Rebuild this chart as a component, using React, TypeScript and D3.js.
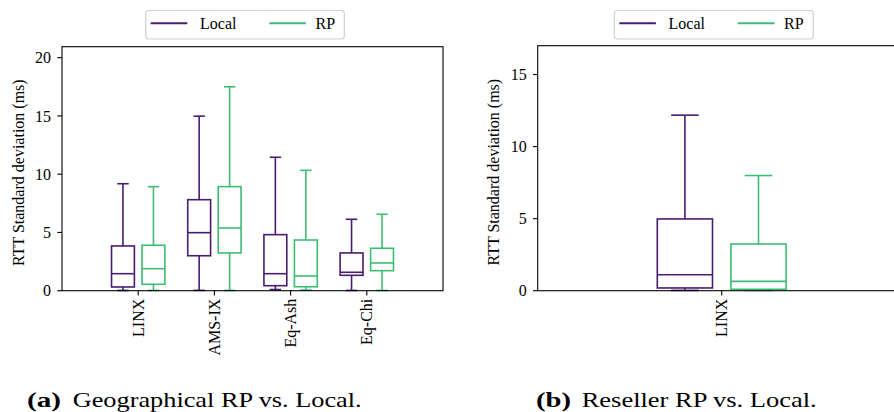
import React from "react";
import * as d3 from "d3";

const categoriesA = ["LINX", "AMS-IX", "Eq-Ash", "Eq-Chi"];
// [whisker low, Q1, median, Q3, whisker high]
const localA = [
  [0.02, 0.32, 1.46, 3.84, 9.18],
  [0.03, 3.0, 4.98, 7.81, 14.98],
  [0.1, 0.43, 1.46, 4.81, 11.45],
  [0.02, 1.32, 1.58, 3.24, 6.13],
];
const rpA = [
  [0.02, 0.55, 1.89, 3.9, 8.93],
  [0.02, 3.24, 5.38, 8.93, 17.5],
  [0.05, 0.34, 1.26, 4.35, 10.33],
  [0.02, 1.72, 2.38, 3.64, 6.56],
];
const categoriesB = ["LINX"];
const localB = [[0.02, 0.19, 1.11, 4.98, 12.18]];
const rpB = [[0.02, 0.1, 0.65, 3.24, 7.99]];

const ticksA = [0, 5, 10, 15, 20];
const ticksB = [0, 5, 10, 15];
const seriesNames = ["Local", "RP"];
const yLabel = "RTT Standard deviation (ms)";

const C_LOCAL = "#481d6f";
const C_RP = "#3dbc74";
const FONT = "Liberation Serif, Times New Roman, serif";

type PanelProps = {
  x0: number;
  x1: number;
  xMax: number;
  yTop: number;
  yMax: number;
  cats: string[];
  local: number[][];
  rp: number[][];
  ticks: number[];
  yLabelX: number;
  legend: { x: number; w: number };
};

const yBottom = 290.7;

function Box({ stats, cx, halfW, y, color }: { stats: number[]; cx: number; halfW: number; y: d3.ScaleLinear<number, number>; color: string }) {
  const [lo, q1, med, q3, hi] = stats;
  const capW = halfW / 2;
  return (
    <g stroke={color} strokeWidth={1.6} fill="none">
      <rect x={cx - halfW} y={y(q3)} width={halfW * 2} height={y(q1) - y(q3)} />
      <line x1={cx - halfW} x2={cx + halfW} y1={y(med)} y2={y(med)} />
      <line x1={cx} x2={cx} y1={y(q3)} y2={y(hi)} />
      <line x1={cx} x2={cx} y1={y(q1)} y2={y(lo)} />
      <line x1={cx - capW} x2={cx + capW} y1={y(hi)} y2={y(hi)} />
      <line x1={cx - capW} x2={cx + capW} y1={y(lo)} y2={y(lo)} />
    </g>
  );
}

function Panel(p: PanelProps) {
  const x = d3.scaleLinear().domain([0, p.xMax]).range([p.x0, p.x1]);
  const y = d3.scaleLinear().domain([0, p.yMax]).range([yBottom, p.yTop]);
  const halfW = (x(0.3) - x(0)) / 2;
  const lx = p.legend.x;
  return (
    <g style={{ fontFamily: FONT }}>
      {p.cats.map((c, i) => (
        <g key={c}>
          <Box stats={p.local[i]} cx={x(i + 1 - 0.2)} halfW={halfW} y={y} color={C_LOCAL} />
          <Box stats={p.rp[i]} cx={x(i + 1 + 0.2)} halfW={halfW} y={y} color={C_RP} />
        </g>
      ))}
      <rect x={p.x0} y={p.yTop} width={p.x1 - p.x0} height={yBottom - p.yTop} fill="none" stroke="#000" strokeWidth={1.1} />
      {p.ticks.map((t) => (
        <g key={t}>
          <line x1={p.x0 - 4.7} x2={p.x0} y1={y(t)} y2={y(t)} stroke="#000" strokeWidth={1.1} />
          <text x={p.x0 - 11} y={y(t)} dy="0.35em" textAnchor="end" fontSize={16}>{t}</text>
        </g>
      ))}
      {p.cats.map((c, i) => (
        <g key={c}>
          <line x1={x(i + 1)} x2={x(i + 1)} y1={yBottom} y2={yBottom + 4.7} stroke="#000" strokeWidth={1.1} />
          <text transform={`translate(${x(i + 1)},${yBottom + 8}) rotate(-90)`} textAnchor="end" dominantBaseline="central" fontSize={16}>{c}</text>
        </g>
      ))}
      <text transform={`translate(${p.yLabelX},${(yBottom + p.yTop) / 2 + 4}) rotate(-90)`} textAnchor="middle" dominantBaseline="central" fontSize={16}>{yLabel}</text>
      <rect x={lx} y={10.5} width={p.legend.w} height={28.5} rx={3} fill="#fff" stroke="#d0d0d0" strokeWidth={1.2} />
      {seriesNames.map((s, i) => (
        <g key={s}>
          <line x1={lx + 5 + i * 118.6} x2={lx + 41.6 + i * 118.6} y1={23.3} y2={23.3} stroke={i === 0 ? C_LOCAL : C_RP} strokeWidth={2} />
          <text x={lx + 54.3 + i * 115.5} y={23.3} dy="0.35em" fontSize={16}>{s}</text>
        </g>
      ))}
    </g>
  );
}

export default function App() {
  return (
    <svg width={894} height={412} style={{ position: "absolute", left: 0, top: 0, background: "#fff" }}>
      <Panel x0={62} x1={443} xMax={5} yTop={46.7} yMax={20.94} cats={categoriesA} local={localA} rp={rpA} ticks={ticksA} yLabelX={18} legend={{ x: 145.7, w: 198.6 }} />
      <Panel x0={537.7} x1={905.7} xMax={2} yTop={45.7} yMax={17} cats={categoriesB} local={localB} rp={rpB} ticks={ticksB} yLabelX={493.3} legend={{ x: 614.3, w: 199 }} />
      <g style={{ fontFamily: FONT }} fontSize={22}>
        <text x={27} y={407} fontWeight="bold" textLength={34} lengthAdjust="spacingAndGlyphs">(a)</text>
        <text x={72.7} y={407} textLength={289} lengthAdjust="spacingAndGlyphs">Geographical RP vs. Local.</text>
        <text x={536} y={407} fontWeight="bold" textLength={35} lengthAdjust="spacingAndGlyphs">(b)</text>
        <text x={581.7} y={407} textLength={235} lengthAdjust="spacingAndGlyphs">Reseller RP vs. Local.</text>
      </g>
    </svg>
  );
}
